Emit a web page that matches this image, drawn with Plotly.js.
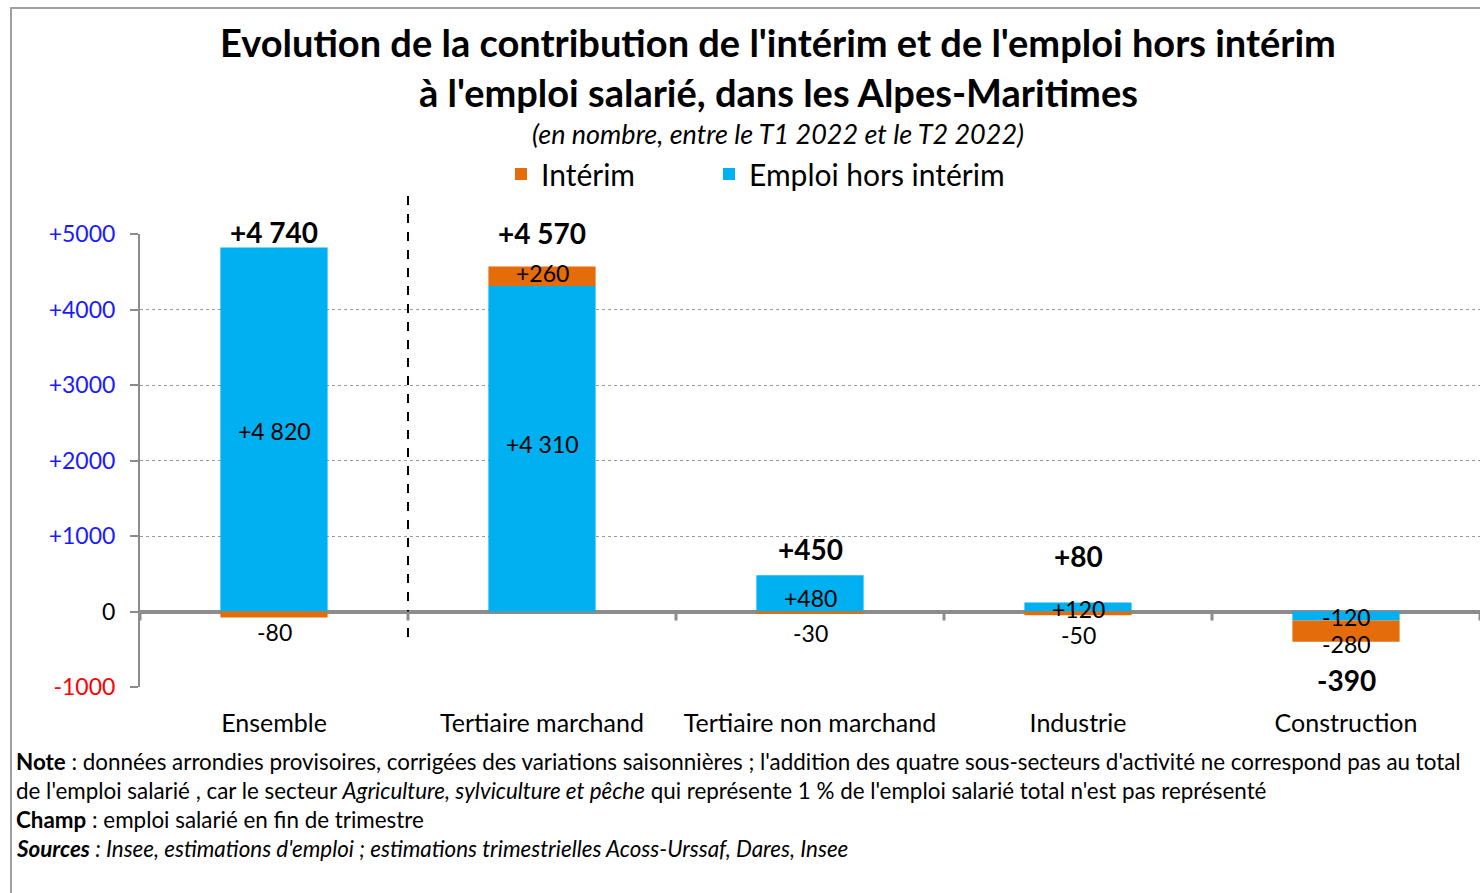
<!DOCTYPE html>
<html><head><meta charset="utf-8">
<script src="https://cdn.plot.ly/plotly-3.0.1.min.js"></script>
<style>html,body{margin:0;padding:0;background:#fff}#chart{width:1480px;height:893px}</style>
</head><body><div id="chart"></div>
<script>
// ---- data ----
const categories = ["Ensemble", "Tertiaire marchand", "Tertiaire non marchand", "Industrie", "Construction"];
const horsInterim = [4820, 4310, 480, 120, -120];
const interim = [-80, 260, -30, -50, -280];
const totals = [4740, 4570, 450, 80, -390];
const yTickVals = [-1000, 0, 1000, 2000, 3000, 4000, 5000];
const yTickLabels = ["-1000", "0", "+1000", "+2000", "+3000", "+4000", "+5000"];

// ---- label pixel nudges (down = positive) ----
const blueShift = [1, -5, 5, 2, 1];
const orangeShift = [17, -3, 20, 22, 13];
const totalShift = [-22, -33, -29, -49, 39];

const FONT = "Lato, 'Noto Sans', sans-serif";
const BLUE = "#00B0F0", ORANGE = "#E46C0A";
const W = 1480, H = 893, L = 140, R = 0, T = 234, B = 206;
const px = x => (x - L) / (W - L - R);
const py = y => (H - B - y) / (H - T - B);

function fmt(v) {
  const s = Math.abs(v).toString().replace(/\B(?=(\d{3})+(?!\d))/g, " ");
  return (v > 0 ? "+" : v < 0 ? "-" : "") + s;
}
function tickColor(v, t) {
  if (v > 0) return '<span style="color:#1a1aff">' + t + '</span>';
  if (v < 0) return '<span style="color:#ff0000">' + t + '</span>';
  return t;
}

const traces = [
  {type: "bar", name: "Emploi hors intérim", x: categories, y: horsInterim, width: 0.4,
   marker: {color: BLUE}, legend: "legend2", hoverinfo: "x+y"},
  {type: "bar", name: "Intérim", x: categories, y: interim, width: 0.4,
   marker: {color: ORANGE}, legend: "legend", hoverinfo: "x+y"}
];

const annotations = [];
categories.forEach((c, i) => {
  annotations.push({x: c, y: horsInterim[i] / 2, xref: "x", yref: "y", showarrow: false,
    text: fmt(horsInterim[i]), yshift: -blueShift[i], font: {family: FONT, size: 23, color: "#000"}});
  const base = Math.sign(interim[i]) === Math.sign(horsInterim[i]) ? horsInterim[i] : 0;
  annotations.push({x: c, y: base + interim[i] / 2, xref: "x", yref: "y", showarrow: false,
    text: fmt(interim[i]), yshift: -orangeShift[i], font: {family: FONT, size: 23, color: "#000"}});
  annotations.push({x: c, y: totals[i], xref: "x", yref: "y", showarrow: false,
    text: "<b>" + fmt(totals[i]) + "</b>", yshift: -totalShift[i], font: {family: FONT, size: 28, color: "#000"}});
});

annotations.push({xref: "paper", yref: "paper", x: px(778), y: py(92), xanchor: "center", yanchor: "middle",
  showarrow: false, text: "<b>à l'emploi salarié, dans les Alpes-Maritimes</b>",
  font: {family: FONT, size: 38, color: "#000"}});
annotations.push({xref: "paper", yref: "paper", x: px(778), y: py(133), xanchor: "center", yanchor: "middle",
  showarrow: false, text: "<i>(en nombre, entre le T1 2022 et le T2 2022)</i>",
  font: {family: FONT, size: 27, color: "#000"}});

const notes = [
  "<b>Note</b> : données arrondies provisoires, corrigées des variations saisonnières ; l'addition des quatre sous-secteurs d'activité ne correspond pas au total",
  "de l'emploi salarié , car le secteur <i>Agriculture, sylviculture et pêche</i> qui représente 1 % de l'emploi salarié total n'est pas représenté",
  "<b>Champ</b> : emploi salarié en fin de trimestre",
  "<b><i>Sources</i></b><i> : Insee, estimations d'emploi ; estimations trimestrielles Acoss-Urssaf, Dares, Insee</i>"
];
const noteY = [761, 790, 819, 848];
notes.forEach((t, i) => annotations.push({xref: "paper", yref: "paper", x: px(14), y: py(noteY[i]),
  xanchor: "left", yanchor: "middle", showarrow: false, align: "left", text: t,
  font: {family: FONT, size: 22.4, color: "#000"}}));

const shapes = [
  {type: "rect", xref: "paper", yref: "paper", x0: px(11), x1: px(1500), y0: py(910), y1: py(8),
   line: {color: "#a0a0a0", width: 2}, fillcolor: "rgba(0,0,0,0)", layer: "below"},
  {type: "line", xref: "x", yref: "paper", x0: 0.5, x1: 0.5, y0: py(637), y1: py(195),
   line: {color: "#000", width: 2, dash: "dash"}}
];
for (let k = 0; k <= categories.length; k++) {
  shapes.push({type: "line", xref: "x", yref: "y", x0: k - 0.5, x1: k - 0.5,
    ysizemode: "pixel", yanchor: 0, y0: 0, y1: -9, line: {color: "#8c8c8c", width: 3}});
}

const legendCommon = {orientation: "h", yanchor: "middle", xanchor: "left",
  font: {family: FONT, size: 30, color: "#000"}, bgcolor: "rgba(0,0,0,0)"};

const layout = {
  width: W, height: H,
  margin: {l: L, r: R, t: T, b: B, pad: 0},
  paper_bgcolor: "#fff", plot_bgcolor: "#fff",
  barmode: "relative",
  font: {family: FONT, color: "#000"},
  title: {text: "<b>Evolution de la contribution de l'intérim et de l'emploi hors intérim</b>",
    font: {family: FONT, size: 38, color: "#000"}, x: 778 / W, xanchor: "center",
    xref: "container", yref: "container", y: 1 - 44 / H, yanchor: "middle"},
  showlegend: true,
  legend: Object.assign({}, legendCommon, {x: px(501), y: py(174)}),
  legend2: Object.assign({}, legendCommon, {x: px(709), y: py(174)}),
  xaxis: {type: "category", range: [-0.5, 4.5], showgrid: false, showline: false, ticks: "",
    tickfont: {family: FONT, size: 25, color: "#000"}, ticklabelstandoff: 19, fixedrange: true},
  yaxis: {range: [-1000, 5000], tickvals: yTickVals,
    ticktext: yTickVals.map((v, i) => tickColor(v, yTickLabels[i])),
    tickfont: {family: FONT, size: 23, color: "#000"},
    showgrid: true, gridcolor: "#9a9a9a", griddash: "dot", gridwidth: 1,
    zeroline: true, zerolinecolor: "#8c8c8c", zerolinewidth: 4,
    showline: true, linecolor: "#8c8c8c", linewidth: 2,
    ticks: "outside", ticklen: 8, tickcolor: "#8c8c8c", tickwidth: 2,
    ticklabelstandoff: 10, fixedrange: true},
  annotations: annotations,
  shapes: shapes
};

Plotly.newPlot("chart", traces, layout, {displayModeBar: false, staticPlot: true});
</script>
</body></html>
